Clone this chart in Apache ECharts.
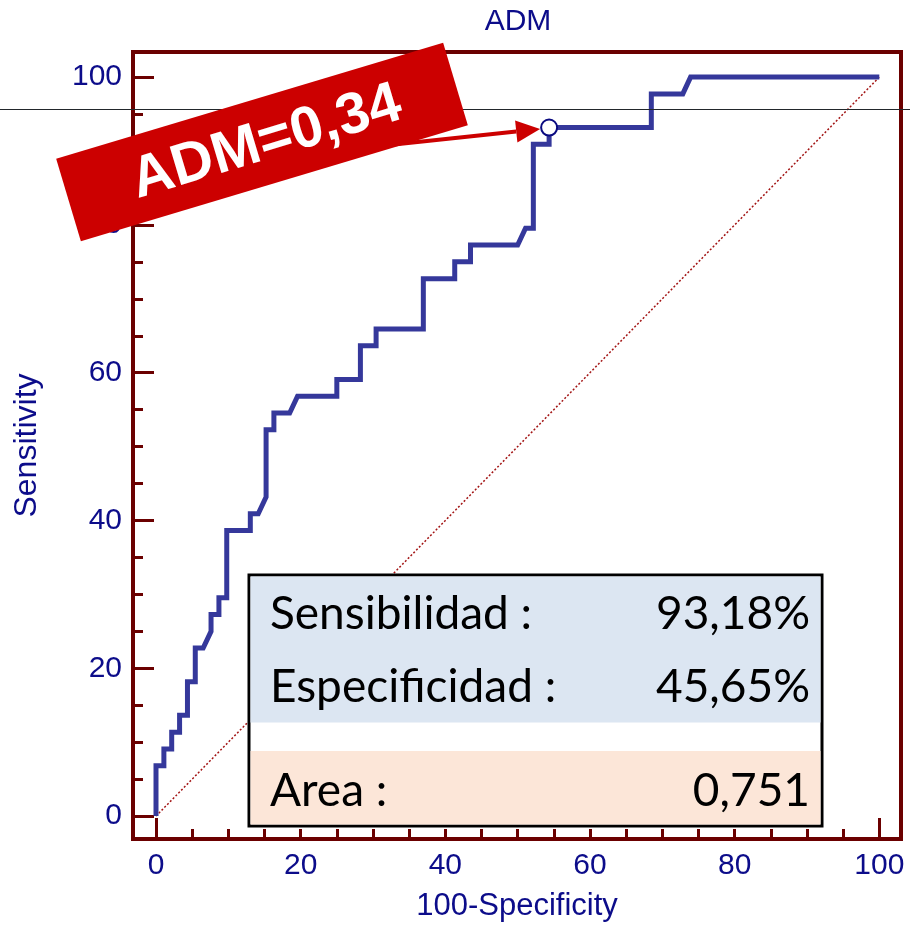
<!DOCTYPE html>
<html lang="es">
<head>
<meta charset="UTF-8">
<title>ADM ROC</title>
<script src="https://cdn.jsdelivr.net/npm/echarts@6.0.0/dist/echarts.min.js"></script>
<style>html,body{margin:0;padding:0;background:#fff;}</style>
</head>
<body>
<div id="main" style="width:910px;height:936px;"></div>
<script>
// ROC curve points (100-Specificity, Sensitivity)
const fpr = [0,0,1.09,1.09,2.17,2.17,3.26,3.26,4.35,4.35,5.43,5.43,6.52,7.61,7.61,8.70,8.70,9.78,9.78,
  13.04,13.04,14.13,15.22,15.22,16.30,16.30,18.48,19.57,25.00,25.00,28.26,28.26,30.43,30.43,36.96,36.96,
  41.30,41.30,43.48,43.48,50.00,51.09,52.17,52.17,54.35,54.35,68.48,68.48,72.83,73.91,100];
const tpr = [0,6.82,6.82,9.09,9.09,11.36,11.36,13.64,13.64,18.18,18.18,22.73,22.73,25.00,27.27,27.27,29.55,29.55,38.64,
  38.64,40.91,40.91,43.18,52.27,52.27,54.55,54.55,56.82,56.82,59.09,59.09,63.64,63.64,65.91,65.91,72.73,
  72.73,75.00,75.00,77.27,77.27,79.55,79.55,90.91,90.91,93.18,93.18,97.73,97.73,100,100];
const cutPoint = [54.35, 93.18];
const diagonal = [[0, 0], [100, 100]];
const refLineY = 95.7;

const minorTicks = [0,5,10,15,20,25,30,35,40,45,50,55,60,65,70,75,80,85,90,95,100];
const yMajorTicks = [0,20,40,60,80,100];
const xMajorTicks = [0,100];
const tickLabels = [0,20,40,60,80,100];

const tableRows = [
  ['Sensibilidad :', '93,18%'],
  ['Especificidad :', '45,65%'],
  ['Area :', '0,751']
];

const frameColor = '#6b0000';
const navy = '#0c0c8a';

let myChart = echarts.init(document.getElementById('main'));

function axisBase(extra) {
  return Object.assign({
    type: 'value',
    axisLine: { show: false, onZero: false },
    splitLine: { show: false },
    axisTick: { inside: true, length: 10, lineStyle: { color: frameColor, width: 3 }, customValues: minorTicks },
    axisLabel: { show: false }
  }, extra);
}

let option = {
  animation: false,
  backgroundColor: '#fff',
  grid: {
    show: true, left: 133, top: 52, right: 9, bottom: 97,
    borderColor: frameColor, borderWidth: 4, backgroundColor: 'transparent'
  },
  xAxis: [
    axisBase({
      position: 'bottom', min: -3.18, max: 103,
      name: '100-Specificity', nameLocation: 'middle', nameGap: 52,
      nameTextStyle: { color: navy, fontSize: 31, fontFamily: 'Liberation Sans' },
      axisLabel: { show: true, customValues: tickLabels, color: navy, fontSize: 30,
        fontFamily: 'Liberation Sans', margin: 12 }
    }),
    axisBase({
      position: 'bottom', min: -3.18, max: 103,
      axisTick: { inside: true, length: 21, lineStyle: { color: frameColor, width: 3 }, customValues: xMajorTicks }
    })
  ],
  yAxis: [
    axisBase({
      position: 'left', min: -3.1, max: 103.4,
      name: 'Sensitivity', nameLocation: 'middle', nameGap: 90,
      nameTextStyle: { color: navy, fontSize: 32, fontFamily: 'Liberation Sans' },
      axisLabel: { show: true, customValues: tickLabels, color: navy, fontSize: 30,
        fontFamily: 'Liberation Sans', margin: 11 }
    }),
    axisBase({
      position: 'left', min: -3.1, max: 103.4,
      axisTick: { inside: true, length: 21, lineStyle: { color: frameColor, width: 3 }, customValues: yMajorTicks }
    })
  ],
  series: [
    {
      type: 'line',
      data: diagonal,
      showSymbol: false,
      lineStyle: { color: '#a31515', width: 1.5, type: [2, 2] },
      z: 2
    },
    {
      type: 'line',
      data: fpr.map((x, i) => [x, tpr[i]]),
      showSymbol: false,
      lineStyle: { color: '#35389b', width: 5, join: 'miter' },
      z: 3
    },
    {
      type: 'scatter',
      data: [cutPoint],
      symbol: 'circle',
      symbolSize: 16,
      itemStyle: { color: '#fff', borderColor: '#0a0a80', borderWidth: 2, opacity: 1 },
      z: 5
    }
  ]
};
myChart.setOption(option);

// annotations
const tip = myChart.convertToPixel({ xAxisIndex: 0, yAxisIndex: 0 }, cutPoint);
const lineY = Math.round(myChart.convertToPixel({ yAxisIndex: 0 }, refLineY)) + 0.5;
const tipX = tip[0] - 9, tipY = tip[1] + 1.5;
const ang = Math.atan2(tipY - 146, tipX - 380);
const hl = 24, hw = 11;
const bx = tipX - hl * Math.cos(ang), by = tipY - hl * Math.sin(ang);

let graphics = [
  { type: 'line', z: 90, shape: { x1: 0, y1: lineY, x2: 910, y2: lineY },
    style: { stroke: '#22272b', lineWidth: 1 } },
  { type: 'line', z: 95, shape: { x1: 380, y1: 146, x2: bx, y2: by },
    style: { stroke: '#cc0000', lineWidth: 4 } },
  { type: 'polygon', z: 95,
    shape: { points: [[tipX, tipY],
      [bx + hw * Math.sin(ang), by - hw * Math.cos(ang)],
      [bx - hw * Math.sin(ang), by + hw * Math.cos(ang)]] },
    style: { fill: '#cc0000' } },
  { type: 'group', z: 100, x: 262, y: 142, rotation: 16.7 * Math.PI / 180,
    children: [
      { type: 'rect', z: 100, shape: { x: -202, y: -43, width: 404, height: 86 },
        style: { fill: '#cc0000' } },
      { type: 'text', z: 101, x: 4, y: 2,
        style: { text: 'ADM=0,34', fill: '#fff', font: 'bold 58px "Liberation Sans"',
          align: 'center', verticalAlign: 'middle' } }
    ] },
  { type: 'text', z: 100, x: 518, y: 22,
    style: { text: 'ADM', fill: navy, font: '30px "Liberation Sans"', align: 'center', verticalAlign: 'middle' } },
  // table box
  { type: 'rect', z: 100, shape: { x: 249, y: 575, width: 573, height: 251 },
    style: { fill: '#fff', stroke: '#000', lineWidth: 3 } },
  { type: 'rect', z: 101, shape: { x: 250.5, y: 576.5, width: 570, height: 146 },
    style: { fill: '#dce6f2' } },
  { type: 'rect', z: 101, shape: { x: 250.5, y: 751, width: 570, height: 73.5 },
    style: { fill: '#fce6d8' } }
];
const rowY = [614, 687, 791];
tableRows.forEach((r, i) => {
  graphics.push({ type: 'text', z: 102, x: 270, y: rowY[i],
    style: { text: r[0], fill: '#000', font: '46px Lato', align: 'left', verticalAlign: 'middle' } });
  graphics.push({ type: 'text', z: 102, x: 810, y: rowY[i],
    style: { text: r[1], fill: '#000', font: '46px Lato', align: 'right', verticalAlign: 'middle' } });
});
myChart.setOption({ graphic: graphics });
</script>
</body>
</html>
